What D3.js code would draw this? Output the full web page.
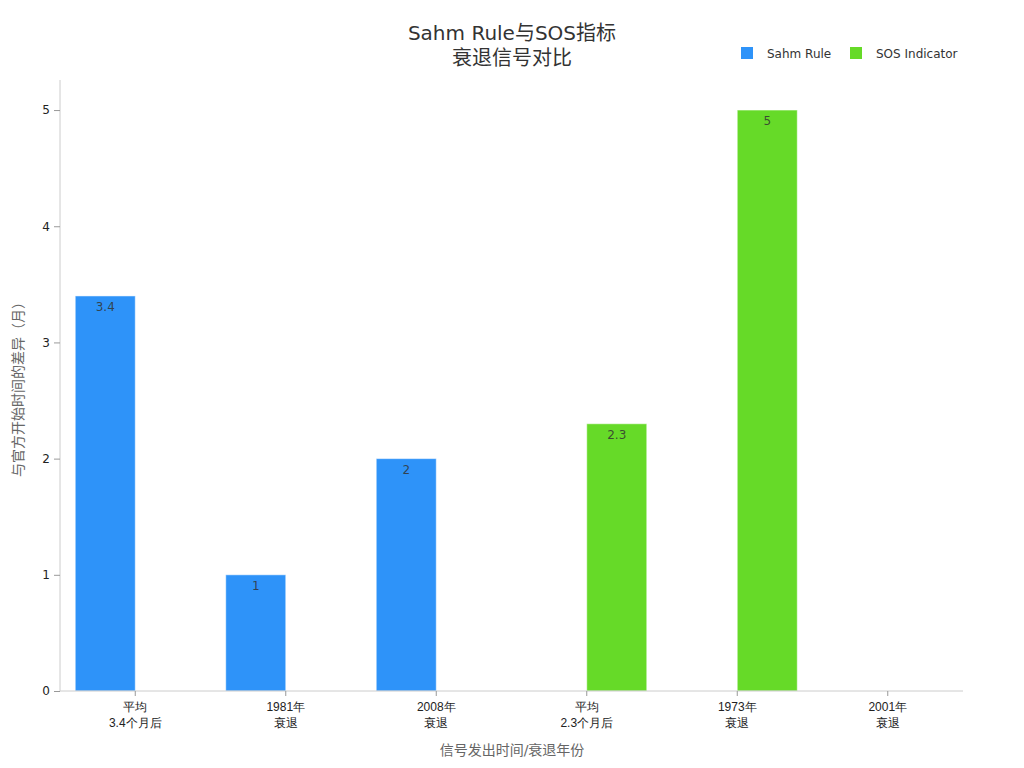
<!DOCTYPE html>
<html><head><meta charset="utf-8">
<script src="https://cdn.jsdelivr.net/npm/d3@7"></script>
<style>body{margin:0;background:#fff;}svg{display:block;font-family:"DejaVu Sans","Noto Sans CJK SC",sans-serif;}</style>
</head><body><svg id="c" width="1024" height="768"></svg>
<script>
const categories = [["平均","3.4个月后"],["1981年","衰退"],["2008年","衰退"],["平均","2.3个月后"],["1973年","衰退"],["2001年","衰退"]];
const seriesNames = ["Sahm Rule","SOS Indicator"];
const sahmValues = [3.4, 1, 2, null, null, null];
const sosValues = [null, null, null, 2.3, 5, null];
const colors = ["#2E93F9","#66DA28"];
const yTicks = [0,1,2,3,4,5];

const svg = d3.select("#c");
const m = {l:60, r:61, t:81, b:77};
const W = 1024, H = 768;
const x = d3.scaleBand().domain(d3.range(categories.length)).range([m.l, W-m.r]).padding(0);
const xs = d3.scaleBand().domain([0,1]).range([0, x.bandwidth()]).paddingOuter(0.254).paddingInner(0);
const y = d3.scaleLinear().domain([0,5.25]).range([H-m.b, m.t]);

// title
const t = svg.append("text").attr("x",512).attr("text-anchor","middle").attr("fill","#333").attr("font-size",20);
t.append("tspan").attr("x",512).attr("y",40).text("Sahm Rule与SOS指标");
t.append("tspan").attr("x",512).attr("y",65).text("衰退信号对比");

// legend
const lg = svg.append("g");
const lpos = [741, 850];
seriesNames.forEach((n,i)=>{
  lg.append("rect").attr("x",lpos[i]).attr("y",47).attr("width",12).attr("height",12).attr("fill",colors[i]);
  lg.append("text").attr("x",lpos[i]+26).attr("y",58).attr("font-size",12).attr("fill","#333").text(n);
});

// bars
const series = [sahmValues, sosValues];
series.forEach((vals,si)=>{
  const g = svg.append("g");
  vals.forEach((v,ci)=>{
    if(v==null) return;
    const bx = x(ci)+xs(si), bw = xs.bandwidth();
    g.append("rect").attr("x",bx).attr("y",y(v)).attr("width",bw).attr("height",y(0)-y(v))
      .attr("fill",colors[si]).attr("stroke","#ffffff").attr("stroke-opacity",0.5).attr("stroke-width",1);
    g.append("text").attr("x",bx+bw/2).attr("y",y(v)+15).attr("text-anchor","middle")
      .attr("font-size",12).attr("fill","#333").attr("fill-opacity",0.85).text(v);
  });
});

// y axis
const ya = svg.append("g").attr("transform",`translate(${m.l},0)`)
  .call(d3.axisLeft(y).tickValues(yTicks).tickSize(6).tickPadding(4).tickFormat(d3.format("d")));
ya.select(".domain").attr("stroke","#ccc").attr("d",`M0,${m.t-1}V${H-m.b}`);
ya.selectAll(".tick line").attr("stroke","#999");
ya.selectAll(".tick text").attr("font-size",12).attr("fill","#222").attr("font-family","DejaVu Sans");

// x axis
const xa = svg.append("g").attr("transform",`translate(0,${H-m.b})`)
  .call(d3.axisBottom(x).tickSize(5).tickFormat(""));
xa.select(".domain").attr("stroke","#ccc").attr("d",`M${m.l},0H${W-m.r}`);
xa.selectAll(".tick line").attr("stroke","#999");
xa.selectAll(".tick").each(function(d){
  const tx = d3.select(this).append("text").attr("text-anchor","middle").attr("font-size",12).attr("fill","#222");
  tx.append("tspan").attr("x",0).attr("y",20).text(categories[d][0]);
  tx.append("tspan").attr("x",0).attr("y",36).text(categories[d][1]);
});

// axis titles
svg.append("text").attr("x",512).attr("y",755).attr("text-anchor","middle").attr("font-size",14).attr("fill","#666").text("信号发出时间/衰退年份");
svg.append("text").attr("transform",`translate(23,${(m.t+H-m.b)/2}) rotate(-90)`).attr("text-anchor","middle").attr("font-size",14).attr("fill","#666").text("与官方开始时间的差异（月）");
</script></body></html>
